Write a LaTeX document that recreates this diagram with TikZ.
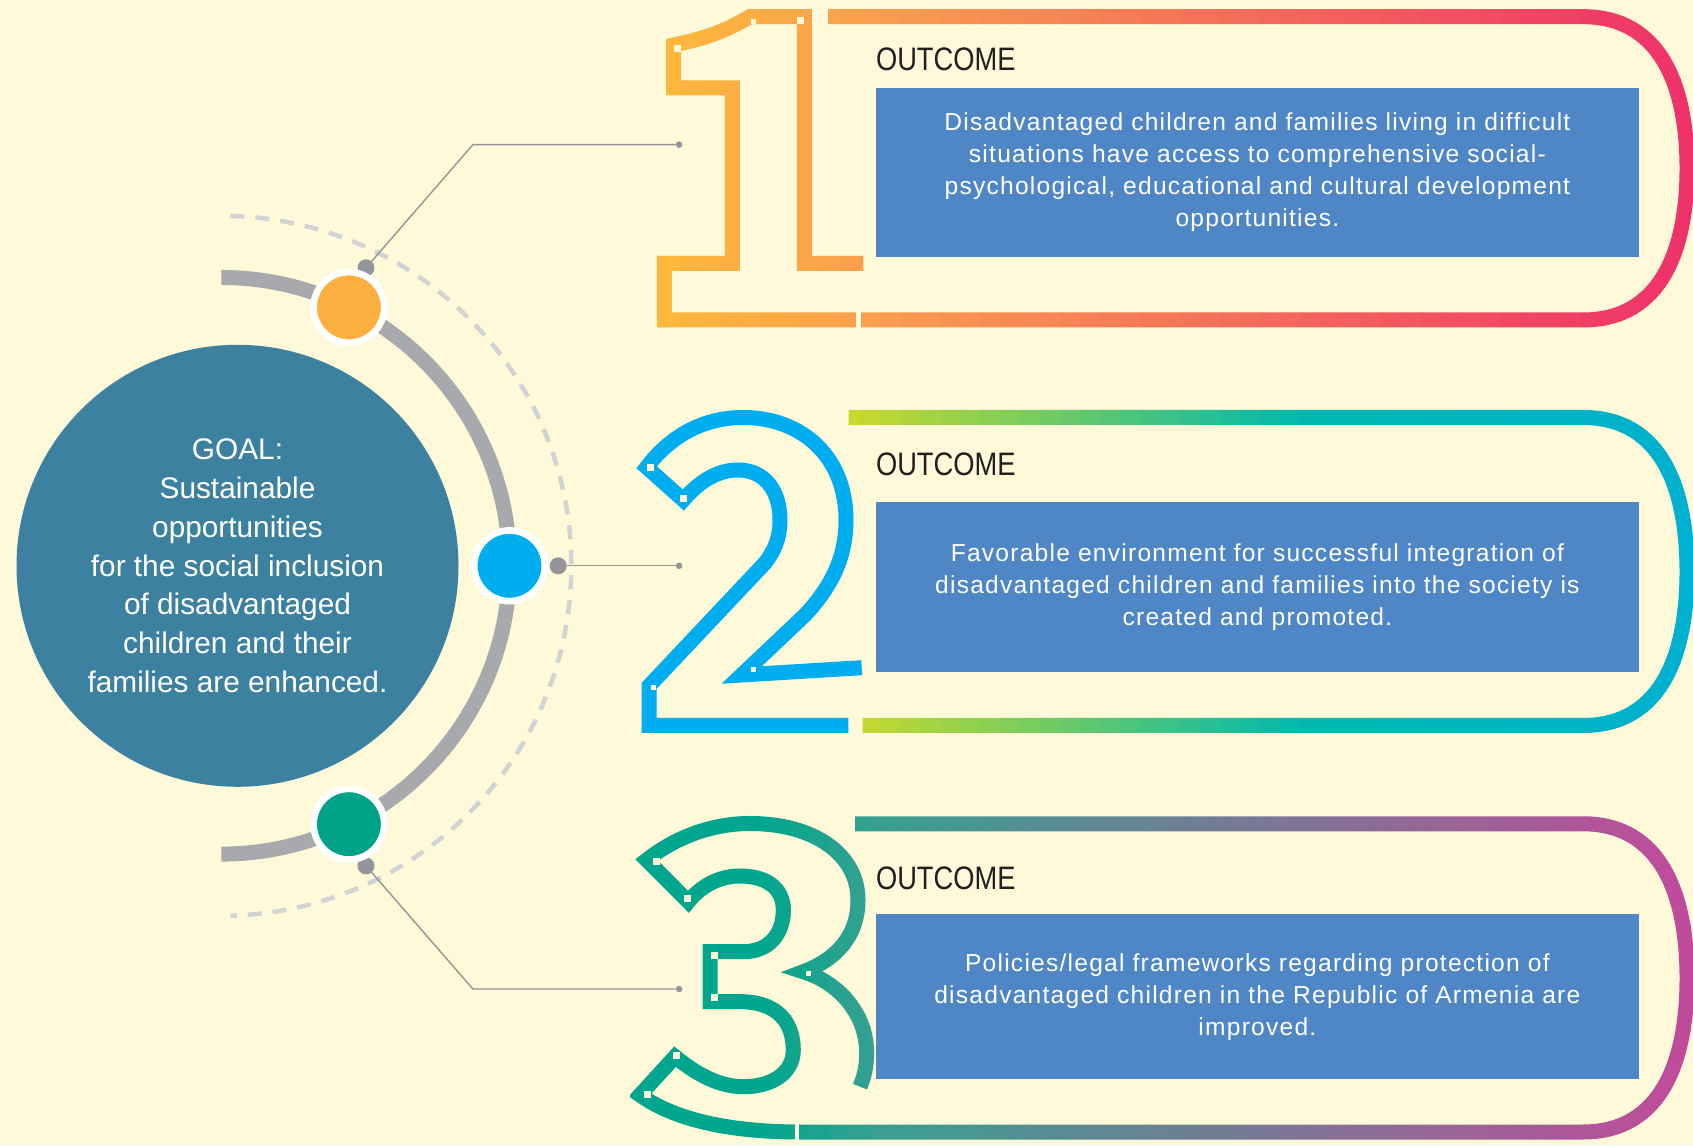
\documentclass[tikz,border=0pt]{standalone}
\usepackage{fontspec}
\setmainfont{Liberation Sans}
\newfontfamily\titlefont[FakeStretch=0.84]{Liberation Sans}
\newfontfamily\boxfont[LetterSpace=5]{Liberation Sans}

\definecolor{fondo}{HTML}{FEF9D9}
\definecolor{goalblue}{HTML}{3D81A0}
\definecolor{arcgrey}{HTML}{A7A9AC}
\definecolor{dashgrey}{HTML}{D1D3D4}
\definecolor{dotgrey}{HTML}{939598}
\definecolor{naranja}{HTML}{FBB040}
\definecolor{celeste}{HTML}{00AEEF}
\definecolor{verde}{HTML}{00A388}
\definecolor{cajaazul}{HTML}{4F86C6}
\definecolor{negro}{HTML}{231F20}
\definecolor{unoA}{HTML}{FDB93B}
\definecolor{unoB}{HTML}{F9A04E}
\definecolor{unoC}{HTML}{EE3169}
\definecolor{dosA}{HTML}{C9DA2A}
\definecolor{dosB}{HTML}{00B8AE}
\definecolor{dosC}{HTML}{00B0D0}
\definecolor{tresA}{HTML}{00A68D}
\definecolor{tresB}{HTML}{3A9F91}
\definecolor{tresC}{HTML}{C14B9B}

% trazos de los numeros y marcos
\newcommand{\caminouno}{(828,1128.3) -- (1583,1128.3) to[out=0,in=90,looseness=1.1] (1687,976.7) to[out=-90,in=0,looseness=1.1] (1583,825) -- (664.3,825) -- (664.3,881.7) -- (732.3,881.7) -- (732.3,1057) -- (673.7,1057) -- (673.7,1100) to[out=12,in=210] (750,1128.3) -- (804.3,1128.3) -- (804.3,881.7) -- (863.3,881.7)}
\newcommand{\caminodos}{(848.6,727.5) -- (1583,727.5) to[out=0,in=90,looseness=1.1] (1687,573.5) to[out=-90,in=0,looseness=1.1] (1583,419.5) -- (862.7,419.5)}
\newcommand{\caminotres}{(855,321.2) -- (1583,321.2) to[out=0,in=90,looseness=1.1] (1687,167) to[out=-90,in=0,looseness=1.1] (1583,13) -- (800,13) .. controls (730,13) and (675,25) .. (640,50) -- (675,88.3) .. controls (695,72) and (718,58.3) .. (743.3,58.3) .. controls (772,58.3) and (793.3,72) .. (793.3,95) .. controls (793.3,125) and (775,143.3) .. (740,143.3) -- (710,143.3) -- (710,193.3) -- (743.3,193.3) .. controls (770,193.3) and (783.3,212) .. (783.3,235) .. controls (783.3,258) and (765,269) .. (740,269) .. controls (718,269) and (700,258) .. (688.3,243.3) -- (646.7,285) .. controls (672,305) and (708,321.5) .. (750,321.5) .. controls (815,321.5) and (858,290) .. (858,245) .. controls (858,208) and (835,185) .. (803.3,173.3) .. controls (840,162) and (866.7,130) .. (866.7,92) .. controls (866.7,78) and (864,68) .. (860,58.3)}

\begin{document}
\begin{tikzpicture}[x=1pt, y=1pt]

	%DEFINICIONES
	\tikzstyle{every node}=[font=\boxfont]
	\tikzstyle{goal} = [circle, fill=goalblue, text=white, align=center, inner sep=0pt, minimum size=442pt, font=\fontsize{29.8}{38.9}\selectfont]
	\tikzstyle{ringdot} = [circle, draw=white, line width=6.7pt, inner sep=0pt, minimum size=70.7pt]
	\tikzstyle{puntogris} = [circle, fill=dotgrey, inner sep=0pt, minimum size=17pt]
	\tikzstyle{puntito} = [circle, fill=dotgrey, inner sep=0pt, minimum size=6.5pt]
	\tikzstyle{linea} = [draw=dotgrey, line width=1.4pt]
	\tikzstyle{caja} = [rectangle, fill=cajaazul, text=white, align=center, inner sep=0pt, minimum width=763.2pt, font=\boxfont\fontsize{24.6}{32}\selectfont]
	\tikzstyle{titulo} = [anchor=base west, inner sep=0pt, text=negro, font=\titlefont\fontsize{32.5}{32.5}\selectfont]
	\tikzstyle{numero} = [line width=15pt]

	%FONDO
	\fill[fondo] (0,0) rectangle (1693,1145);
	\useasboundingbox (0,0) rectangle (1693,1145);

	%ARCOS
	\coordinate (ctr) at (221.3,579.2);
	\draw[dashgrey, line width=4.5pt, dash pattern=on 14pt off 11pt] (ctr) ++(88.5:350pt) arc[start angle=88.5, end angle=-88.5, radius=350pt];
	\draw[arcgrey, line width=15pt] (ctr) ++(90:288.3pt) arc[start angle=90, end angle=-90, radius=288.3pt];

	%CONECTORES
	\draw(366,877.2) node[puntogris](g1){};
	\draw(558.2,579.2) node[puntogris](g2){};
	\draw(366,279.1) node[puntogris](g3){};
	\coordinate (b1) at (472.9,1000.3);
	\coordinate (b3) at (472.9,156);
	\draw(679.1,1000.3) node[puntito](e1){};
	\draw(679.1,579.2) node[puntito](e2){};
	\draw(679.1,156) node[puntito](e3){};
	\draw [linea] (g1) -- (b1) -- (e1);
	\draw [linea] (g2) -- (e2);
	\draw [linea] (g3) -- (b3) -- (e3);

	%CIRCULOS
	\draw(348.9,837.6) node[ringdot, fill=naranja](r1){};
	\draw(509.5,579.2) node[ringdot, fill=celeste](r2){};
	\draw(348.9,320.8) node[ringdot, fill=verde](r3){};
	\draw(237.5,579.2) node[goal](goal){GOAL:\\Sustainable\\opportunities\\for the social inclusion\\of disadvantaged\\children and their\\families are enhanced.};

	%NUMEROS (degradado por franjas)
	\foreach \i in {0,...,53} {
		\pgfmathsetmacro{\xa}{640+20*\i}
		\pgfmathsetmacro{\pa}{max(0,min(100,(\xa+10-660)/200*100))}
		\pgfmathsetmacro{\pb}{max(0,min(100,(\xa+10-860)/830*100))}
		\colorlet{tonoa}{unoB!\pa!unoA}
		\colorlet{tono}{unoC!\pb!tonoa}
		\begin{scope}
			\clip (\xa,790) rectangle (\xa+20.5,1145);
			\draw[numero, tono] \caminouno;
		\end{scope}
	}
	\foreach \i in {0,...,43} {
		\pgfmathsetmacro{\xa}{840+20*\i}
		\pgfmathsetmacro{\pa}{max(0,min(100,(\xa+10-850)/450*100))}
		\pgfmathsetmacro{\pb}{max(0,min(100,(\xa+10-1300)/390*100))}
		\colorlet{tonoa}{dosB!\pa!dosA}
		\colorlet{tono}{dosC!\pb!tonoa}
		\begin{scope}
			\clip (\xa,400) rectangle (\xa+20.5,750);
			\draw[numero, tono] \caminodos;
		\end{scope}
	}
	\foreach \i in {0,...,53} {
		\pgfmathsetmacro{\xa}{630+20*\i}
		\pgfmathsetmacro{\pa}{max(0,min(100,(\xa+10-760)/120*100))}
		\pgfmathsetmacro{\pb}{max(0,min(100,(\xa+10-880)/810*100))}
		\colorlet{tonoa}{tresB!\pa!tresA}
		\colorlet{tono}{tresC!\pb!tonoa}
		\begin{scope}
			\clip (\xa,0) rectangle (\xa+20.5,340);
			\draw[numero, tono] \caminotres;
		\end{scope}
	}
	\draw[numero, celeste] (861.7,477.3) -- (741.7,470) -- (805,530) .. controls (835,562) and (846,592) .. (846,625) .. controls (846,690) and (800,727.5) .. (743.3,727.5) .. controls (700,727.5) and (668,706) .. (646.7,677.7) -- (683.3,645) .. controls (698,662) and (716,675) .. (738,675) .. controls (764,675) and (780,655) .. (780,625) .. controls (780,606) and (774,594) .. (765,582) -- (649,459) -- (649,419.5) -- (848.3,419.5);
	\foreach \x/\y in {677.7/1096.7, 800/1124.3, 650.7/677.7, 683.3/646, 656/283.3, 687.3/246, 714/189.7, 714/147.7, 676/89, 647.3/50.7}
		\fill[fondo] (\x-3.5,\y-3.5) rectangle ++(7,7);
	\foreach \x/\y in {753.3/1123.5, 653.3/457.5, 753.3/475.5, 808.3/171.7}
		\fill[fondo] (\x-2.5,\y-2.5) rectangle ++(5,5);
	\fill[fondo] (856,816) rectangle ++(5,18);
	\fill[fondo] (795,4) rectangle ++(4,18);

	%CAJAS
	\draw(1257.4,972.5) node[caja, minimum height=168.4pt](o1){Disadvantaged children and families living in difficult\\situations have access to comprehensive social-\\psychological, educational and cultural development\\opportunities.};
	\draw(1257.4,558) node[caja, minimum height=169.4pt](o2){Favorable environment for successful integration of\\disadvantaged children and families into the society is\\created and promoted.};
	\draw(1257.4,148.2) node[caja, minimum height=165pt](o3){Policies/legal frameworks regarding protection of\\disadvantaged children in the Republic of Armenia are\\improved.};
	\draw(875.8,1074) node[titulo](t1){OUTCOME};
	\draw(875.8,669) node[titulo](t2){OUTCOME};
	\draw(875.8,255) node[titulo](t3){OUTCOME};
\end{tikzpicture}
\end{document}
